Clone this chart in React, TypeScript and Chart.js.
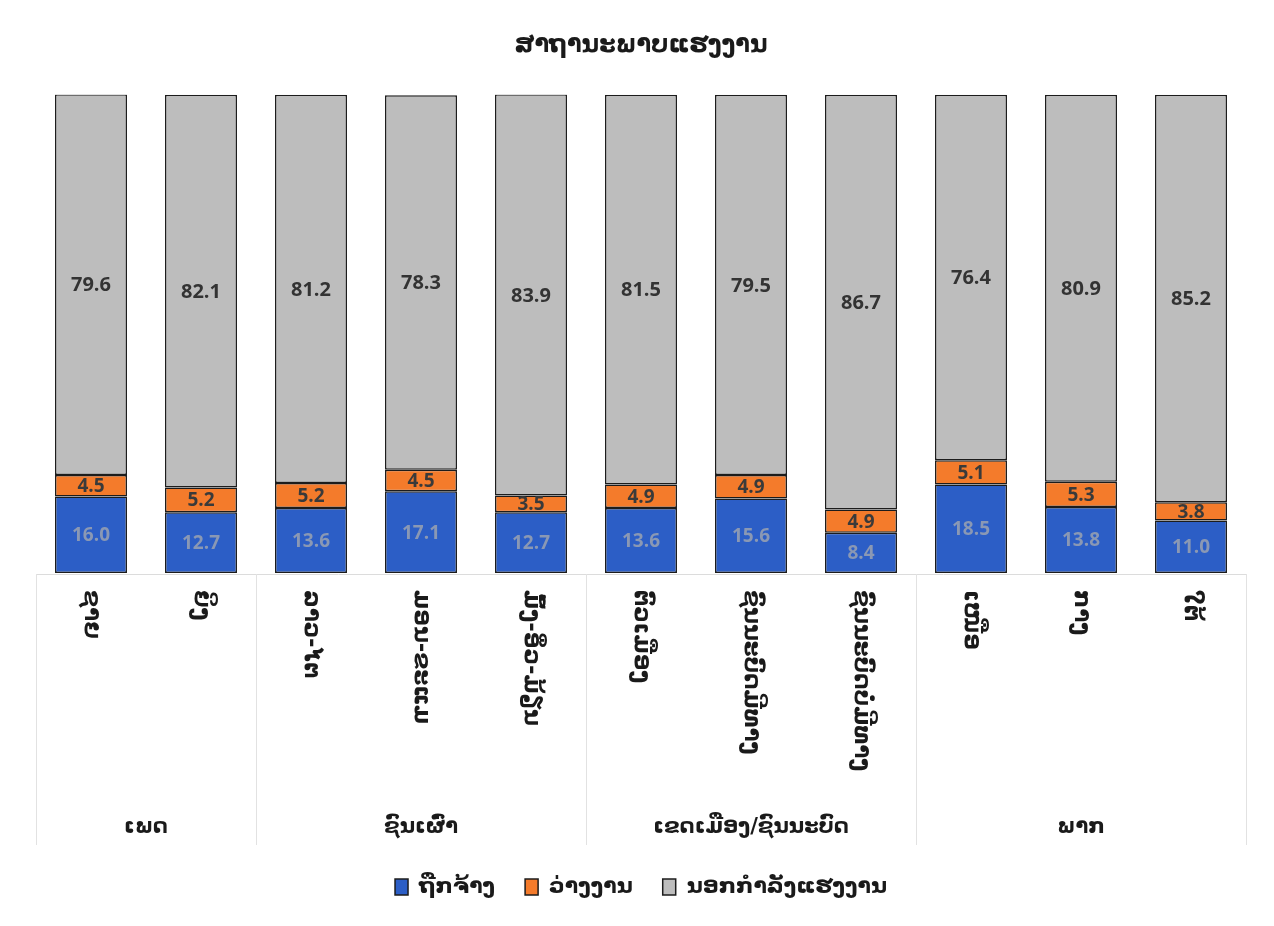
import React, { useEffect, useRef } from "react";
import { Chart, registerables } from "chart.js";

Chart.register(...registerables);

const TITLE = "ສາຖານະພາບແຮງງານ";
const categories = [
  "ຊາຍ",
  "ຍິງ",
  "ລາວ-ໄຕ",
  "ມອນ-ຂະແມ",
  "ມົ້ງ-ອິ່ວ-ມ້ຽນ",
  "ຕົວເມືອງ",
  "ຊົນນະບົດມີທາງ",
  "ຊົນນະບົດບໍ່ມີທາງ",
  "ເໜືອ",
  "ກາງ",
  "ໃຕ້",
];
const groups = ["ເພດ", "ຊົນເຜົ່າ", "ເຂດເມືອງ/ຊົນນະບົດ", "ພາກ"];
const groupSizes = [2, 3, 3, 3];
const seriesNames = ["ຖືກຈ້າງ", "ວ່າງງານ", "ນອກກຳລັງແຮງງານ"];
const employed = [16.0, 12.7, 13.6, 17.1, 12.7, 13.6, 15.6, 8.4, 18.5, 13.8, 11.0];
const unemployed = [4.5, 5.2, 5.2, 4.5, 3.5, 4.9, 4.9, 4.9, 5.1, 5.3, 3.8];
const outside = [79.6, 82.1, 81.2, 78.3, 83.9, 81.5, 79.5, 86.7, 76.4, 80.9, 85.2];

const LAO_FONT = "'DejaVu Sans', 'Noto Sans', sans-serif";
const NUM_FONT = "'Open Sans', 'DejaVu Sans', sans-serif";
const labelColors = ["#8a98b4", "#3a3a3a", "#333333"];

const customPlugin = {
  id: "customDraw",
  afterDatasetsDraw(chart: any) {
    const ctx = chart.ctx;
    const area = chart.chartArea;
    const xs = chart.scales.x;
    ctx.save();
    // data labels
    chart.data.datasets.forEach((ds: any, di: number) => {
      const meta = chart.getDatasetMeta(di);
      meta.data.forEach((bar: any, i: number) => {
        const p = bar.getProps(["x", "y", "base"], true);
        const cy = (p.y + p.base) / 2;
        ctx.font = `bold ${di === 2 ? 20 : 19}px ${NUM_FONT}`;
        ctx.fillStyle = labelColors[di];
        ctx.textAlign = "center";
        ctx.textBaseline = "middle";
        ctx.fillText(ds.data[i].toFixed(1), p.x, cy + 1);
      });
    });
    // baseline
    ctx.strokeStyle = "#dcdcdc";
    ctx.lineWidth = 1;
    ctx.beginPath();
    ctx.moveTo(area.left, area.bottom + 1.5);
    ctx.lineTo(area.right, area.bottom + 1.5);
    ctx.stroke();
    // category labels
    categories.forEach((c, i) => {
      const cx = xs.getPixelForValue(i);
      ctx.save();
      ctx.translate(cx, area.bottom + 17);
      ctx.rotate(Math.PI / 2);
      ctx.font = `bold 23px ${LAO_FONT}`;
      ctx.fillStyle = "#1a1a1a";
      ctx.textAlign = "left";
      ctx.textBaseline = "middle";
      ctx.fillText(c, 0, 0);
      ctx.restore();
    });
    // group separators & labels
    const step = (area.right - area.left) / categories.length;
    let idx = 0;
    const bounds = [area.left];
    groupSizes.forEach((s) => {
      idx += s;
      bounds.push(area.left + idx * step);
    });
    ctx.strokeStyle = "#e2e2e2";
    bounds.forEach((bx) => {
      const x = Math.round(bx) + 0.5;
      ctx.beginPath();
      ctx.moveTo(x, area.bottom + 1);
      ctx.lineTo(x, area.bottom + 272);
      ctx.stroke();
    });
    groups.forEach((g, gi) => {
      const mid = (bounds[gi] + bounds[gi + 1]) / 2;
      ctx.font = `bold 21px ${LAO_FONT}`;
      ctx.fillStyle = "#1a1a1a";
      ctx.textAlign = "center";
      ctx.textBaseline = "middle";
      ctx.fillText(g, mid, area.bottom + 255);
    });
    ctx.restore();
  },
};

export default function App() {
  const ref = useRef<HTMLCanvasElement | null>(null);
  useEffect(() => {
    if (!ref.current) return;
    const border = "#1c1c1c";
    const chart = new Chart(ref.current, {
      type: "bar",
      data: {
        labels: categories,
        datasets: [
          { label: seriesNames[0], data: employed, backgroundColor: "#2c5ec6", borderColor: border, borderWidth: 1.5, borderSkipped: false },
          { label: seriesNames[1], data: unemployed, backgroundColor: "#f47b2b", borderColor: border, borderWidth: 1.5, borderSkipped: false },
          { label: seriesNames[2], data: outside, backgroundColor: "#bdbdbd", borderColor: border, borderWidth: 1.5, borderSkipped: false },
        ],
      },
      options: {
        responsive: true,
        maintainAspectRatio: false,
        animation: false,
        layout: { padding: { left: 28, right: 20, top: 0, bottom: 10 } },
        datasets: { bar: { categoryPercentage: 0.8, barPercentage: 0.818 } },
        scales: {
          x: {
            stacked: true,
            grid: { display: false },
            border: { display: false },
            ticks: { display: false },
            afterFit: (s: any) => {
              s.height = 273;
            },
          },
          y: { stacked: true, display: false, min: 0, max: 100 },
        },
        plugins: {
          title: {
            display: true,
            text: TITLE,
            color: "#1a1a1a",
            font: { family: LAO_FONT, size: 24, weight: "bold" },
            padding: { top: 23, bottom: 35 },
          },
          legend: {
            position: "bottom",
            labels: {
              boxWidth: 13,
              boxHeight: 16,
              padding: 30,
              color: "#1a1a1a",
              font: { family: LAO_FONT, size: 22, weight: "bold" },
            },
          },
          tooltip: { enabled: false },
        },
      },
      plugins: [customPlugin],
    });
    return () => chart.destroy();
  }, []);
  return (
    <div style={{ width: 1258, height: 910, position: "relative", background: "#ffffff" }}>
      <canvas ref={ref} />
    </div>
  );
}
